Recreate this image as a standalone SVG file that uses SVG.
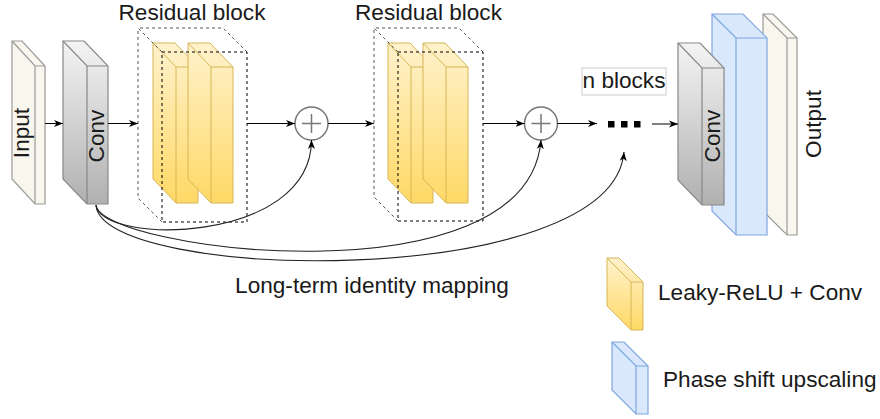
<svg xmlns="http://www.w3.org/2000/svg" width="880" height="419" viewBox="0 0 880 419">
<defs>
<linearGradient id="gGray" x1="0" y1="0" x2="0" y2="1"><stop offset="0" stop-color="#f4f4f4"/><stop offset="1" stop-color="#b0b0b0"/></linearGradient>
<linearGradient id="gYel" x1="0" y1="0" x2="0" y2="1"><stop offset="0" stop-color="#fff2cc"/><stop offset="1" stop-color="#ffd966"/></linearGradient>
<marker id="arr" markerWidth="10" markerHeight="8" refX="9" refY="4" orient="auto" markerUnits="userSpaceOnUse"><path d="M0,0.5 L9,4 L0,7.5 L2.5,4 Z" fill="#000"/></marker>
<style>
.t{font-family:"Liberation Sans",Arial,sans-serif;font-size:22.6px;fill:#1a1a1a}
.in{fill:#f9f7ed;stroke:#999;stroke-width:1.2}
.gr{fill:url(#gGray);stroke:#888;stroke-width:1.2}
.ye{fill:url(#gYel);stroke:#d6b656;stroke-width:1}
.bl{fill:#dae8fc;stroke:#7ea6e0;stroke-width:1.2}
.e{fill:none}
.df{fill:none;stroke:#000;stroke-width:1;stroke-dasharray:3 3}
.db{fill:none;stroke:#555;stroke-width:1;stroke-dasharray:3 3}
.ln{fill:none;stroke:#000;stroke-width:1}
.lg{fill:none;stroke:#222;stroke-width:1.1}
.pl{fill:#fff;stroke:#777;stroke-width:1.5}
.ps{stroke:#777;stroke-width:1.5}
</style>
</defs>
<rect width="880" height="419" fill="#fff"/>

<g id="input">
<path class="in" d="M12,41 H22 L45,66 V204 H35 L12,179 Z"/>
<path class="in e" d="M12,41 L35,66 H45 M35,66 V204"/>
<text class="t" x="29" y="133" text-anchor="middle" transform="rotate(-90 29 133)">Input</text>
</g>

<g id="conv1">
<path class="gr" d="M63,41 H84 L108,66 V204 H87 L63,179 Z"/>
<path class="gr e" d="M63,41 L87,66 H108 M87,66 V204"/>
<text class="t" x="104" y="136" text-anchor="middle" transform="rotate(-90 104 136)">Conv</text>
</g>

<g id="resblock1">
<path class="ye" d="M153,43 H175 L198,67 V203 H176 L153,179 Z"/>
<path class="ye e" d="M153,43 L176,67 H198 M176,67 V203"/>
<path class="ye" d="M188,43 H210 L233,67 V203 H211 L188,179 Z"/>
<path class="ye e" d="M188,43 L211,67 H233 M211,67 V203"/>
<path class="db" d="M162,52 L138,28 H223 L247,52 M162,222 L138,198 V28"/>
<rect class="df" x="162" y="52" width="85" height="170"/>
<text class="t" x="192" y="20" text-anchor="middle">Residual block</text>
</g>

<g id="plus1">
<circle class="pl" cx="311.5" cy="123.5" r="16.5"/>
<path class="ps" d="M302,123.5 H321 M311.5,114 V133"/>
</g>

<g id="resblock2">
<path class="ye" d="M388,43 H410 L433,67 V203 H411 L388,179 Z"/>
<path class="ye e" d="M388,43 L411,67 H433 M411,67 V203"/>
<path class="ye" d="M423,43 H445 L468,67 V203 H446 L423,179 Z"/>
<path class="ye e" d="M423,43 L446,67 H468 M446,67 V203"/>
<path class="db" d="M398,52 L374,28 H459 L483,52 M398,221 L374,197 V28"/>
<rect class="df" x="398" y="52" width="85" height="169"/>
<text class="t" x="428.5" y="20" text-anchor="middle">Residual block</text>
</g>

<g id="plus2">
<circle class="pl" cx="541" cy="123.5" r="16.5"/>
<path class="ps" d="M531.5,123.5 H550.5 M541,114 V133"/>
</g>

<g id="nblocks">
<rect x="582" y="68" width="84" height="27" fill="#fff" stroke="#ccc" stroke-width="1"/>
<text class="t" x="624" y="88" text-anchor="middle">n blocks</text>
<rect x="608" y="121" width="6.5" height="6.5" fill="#000"/>
<rect x="621" y="121" width="6.5" height="6.5" fill="#000"/>
<rect x="634" y="121" width="6.5" height="6.5" fill="#000"/>
</g>

<g id="output">
<path class="in" d="M763,14 H773 L797,38 V235 H787 L763,211 Z"/>
<path class="in e" d="M763,14 L787,38 H797 M787,38 V235"/>
<text class="t" x="821" y="124" text-anchor="middle" transform="rotate(-90 821 124)">Output</text>
</g>

<g id="upscale">
<path class="bl" d="M712,14 H743 L767,38 V235 H736 L712,211 Z"/>
<path class="bl e" d="M712,14 L736,38 H767 M736,38 V235"/>
</g>

<g id="conv2">
<path class="gr" d="M678,43 H700 L724,68 V205 H702 L678,180 Z"/>
<path class="gr e" d="M678,43 L702,68 H724 M702,68 V205"/>
<text class="t" x="720" y="136" text-anchor="middle" transform="rotate(-90 720 136)">Conv</text>
</g>

<g id="connectors">
<path class="ln" d="M45,123.5 H63" marker-end="url(#arr)"/>
<path class="ln" d="M108,123.5 H138" marker-end="url(#arr)"/>
<path class="ln" d="M247,123.5 H295" marker-end="url(#arr)"/>
<path class="ln" d="M328,123.5 H374" marker-end="url(#arr)"/>
<path class="ln" d="M483,123.5 H524.5" marker-end="url(#arr)"/>
<path class="ln" d="M557.5,123.5 H597" marker-end="url(#arr)"/>
<path class="ln" d="M652,124 H678" marker-end="url(#arr)"/>
<path class="lg" d="M96,205 C100,245 311,245 311.5,140" marker-end="url(#arr)"/>
<path class="lg" d="M96,205 C100,250 528,305 541,140" marker-end="url(#arr)"/>
<path class="lg" d="M96,205 C100,282 612,292 624,152" marker-end="url(#arr)"/>
<text class="t" x="372" y="293" text-anchor="middle">Long-term identity mapping</text>
</g>

<g id="legend-lrelu">
<path class="ye" d="M607,258 H619 L643,282 V330 H631 L607,306 Z"/>
<path class="ye e" d="M607,258 L631,282 H643 M631,282 V330"/>
<text class="t" x="658" y="300">Leaky-ReLU + Conv</text>
</g>

<g id="legend-phase">
<path class="bl" d="M612,342 H624 L648,366 V414 H636 L612,390 Z"/>
<path class="bl e" d="M612,342 L636,366 H648 M636,366 V414"/>
<text class="t" x="663" y="387">Phase shift upscaling</text>
</g>
</svg>
